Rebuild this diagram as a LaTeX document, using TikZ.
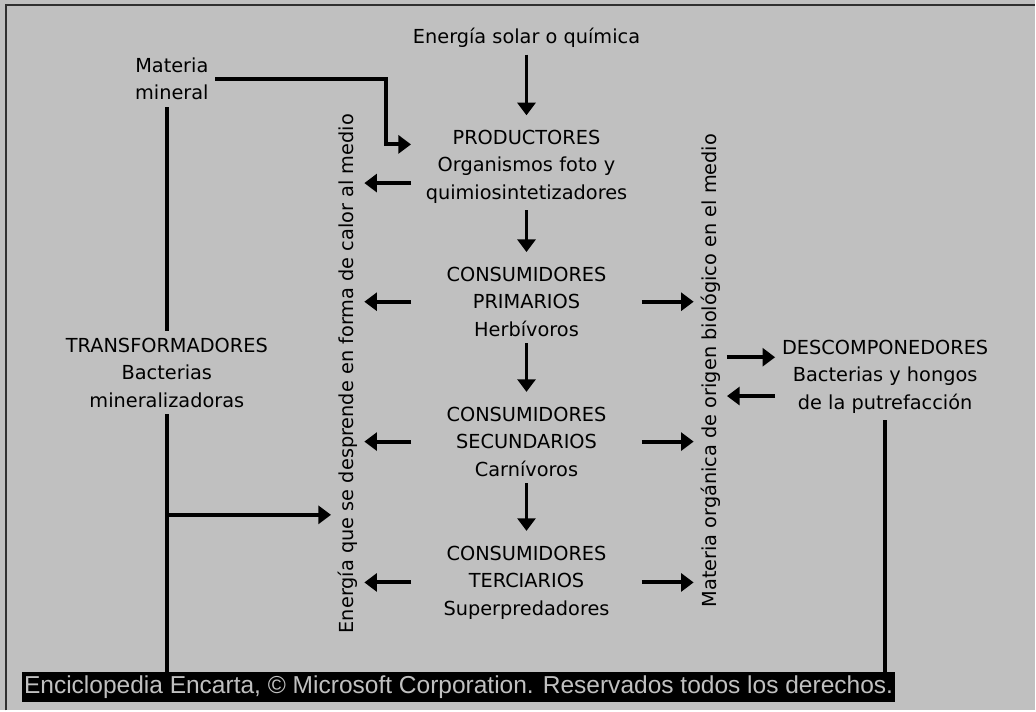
\documentclass[tikz,border=0pt]{standalone}
\usepackage{fontspec}
\setmainfont{DejaVu Sans}
\newfontfamily\creditfont{Liberation Sans}
\usepackage{xcolor}
\usetikzlibrary{arrows.meta}
\definecolor{panel}{HTML}{C0C0C0}
\definecolor{frame}{HTML}{303030}

\begin{document}
\begin{tikzpicture}[x=0.75pt,y=-0.75pt,
  txt/.style={font=\fontsize{14.5pt}{20.6pt}\selectfont,align=center,inner sep=5pt},
  lvl/.style={txt,text width=163pt},
  side/.style={txt,rotate=90},
  lin/.style={line width=3pt},
  arr/.style={lin,-{Triangle[width=13.5pt,length=9.5pt]}},
  down/.style={arr,shorten >=6pt},
  credit/.style={fill=black,text=panel,inner sep=0pt,minimum width=655pt,minimum height=22.5pt,
    font=\creditfont\fontsize{18.4pt}{20pt}\selectfont}]
\fill[panel] (0,0) rectangle (1036,711);
\draw[frame,line width=1.5pt] (6,711) -- (6,5) -- (1036,5);
\useasboundingbox (0,0) rectangle (1036,711);

\node[txt] (sol) at (527,38) {Energía solar o química};
\node[lvl] (prod) at (527,167) {PRODUCTORES\\Organismos foto y\\quimiosintetizadores};
\node[lvl] (prim) at (527,302) {CONSUMIDORES\\PRIMARIOS\\Herbívoros};
\node[lvl] (sec) at (527,442) {CONSUMIDORES\\SECUNDARIOS\\Carnívoros};
\node[lvl] (ter) at (527,583) {CONSUMIDORES\\TERCIARIOS\\Superpredadores};
\node[txt] (mineral) at (172,79) {Materia\\mineral};
\node[txt] (trans) at (167,373) {TRANSFORMADORES\\Bacterias\\mineralizadoras};
\node[txt] (desc) at (886,377) {DESCOMPONEDORES\\Bacterias y hongos\\de la putrefacción};
\node[side] (calor) at (348,374) {Energía que se desprende en forma de calor al medio};
\node[side] (organica) at (711,371) {Materia orgánica de origen biológico en el medio};
\node[credit] (credit) at (459,688) {Enciclopedia Encarta, © Microsoft Corporation. Reservados todos los derechos.};

\draw[down] (sol) -- (prod);
\draw[down] (prod) -- (prim);
\draw[down] (prim) -- (sec);
\draw[down] (sec) -- (ter);

\draw[arr] (mineral.east) -- ++(171,0) |- (prod.169);
\draw[arr] (prod.188) -- (prod.188 -| calor.south);
\draw[arr] (prim.west) -- (prim.west -| calor.south);
\draw[arr] (sec.west) -- (sec.west -| calor.south);
\draw[arr] (ter.west) -- (ter.west -| calor.south);
\draw[arr] (prim.east) -- (prim.east -| organica.north);
\draw[arr] (sec.east) -- (sec.east -| organica.north);
\draw[arr] (ter.east) -- (ter.east -| organica.north);

\draw[arr] (organica.south |- desc.170) -- (desc.170);
\draw[arr] (desc.190) -- (desc.190 -| organica.south);

\draw[lin] (trans.north) -- (trans.north |- mineral.south);
\draw[lin] (trans.south) -- (trans.south |- credit.north);
\path (trans.south) -- (trans.south |- credit.north) coordinate[pos=.39] (tap);
\draw[arr] (tap) -- (tap -| calor.north);
\draw[lin] (desc.south) -- (desc.south |- credit.north);
\end{tikzpicture}
\end{document}
